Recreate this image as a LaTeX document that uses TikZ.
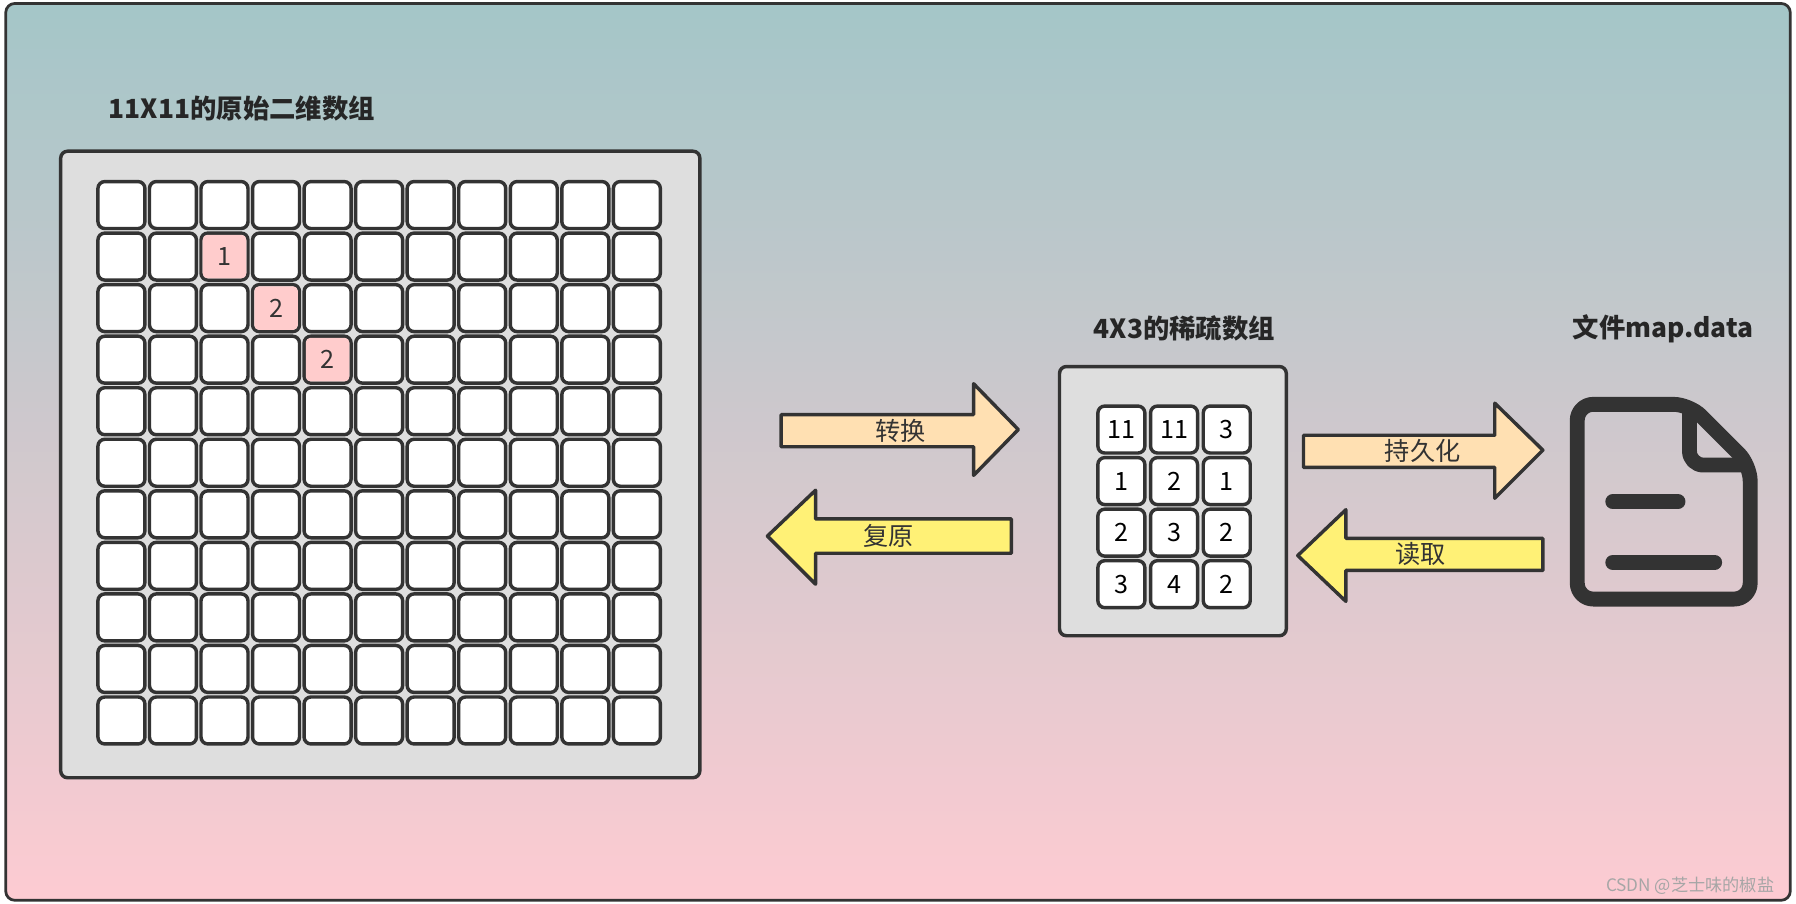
\documentclass[tikz,border=0pt]{standalone}
\usepackage{fontspec}
\setmainfont{Noto Sans CJK SC}
\newfontfamily\cjk{Noto Sans CJK SC}
\begin{document}
\begin{tikzpicture}[x=0.5pt,y=-0.5pt,
  cell/.style={draw=black!80,line width=1.5pt,fill=white,rounded corners=3pt,minimum size=20.5pt,inner sep=0pt,font=\fontsize{11}{11}\selectfont},
  pinkcell/.style={fill=red!20,rounded corners=2pt,minimum size=19pt,inner sep=0pt,font=\fontsize{11}{11}\selectfont,text=black!80},
  panel/.style={draw=black!80,line width=1.5pt,fill=black!13,rounded corners=3pt},
  title/.style={font=\fontsize{11.5}{12}\selectfont\bfseries,text=black!85},
  arrowlbl/.style={font=\fontsize{11}{11}\selectfont,text=black!80},
  arr/.style={draw=black!80,line width=1.5pt,line join=round}]
\useasboundingbox (0,0) rectangle (1568,789);
\fill[white] (0,0) rectangle (1568,789);
\shade[top color={rgb,255:red,164;green,198;blue,200},bottom color={rgb,255:red,253;green,203;blue,210},rounded corners=4pt,draw=black!80,line width=1.2pt] (5,3) rectangle (1563,786);
% titles
\node[title,anchor=west] (t1) at (88,95) {11X11的原始二维数组};
\node[title] (t2) at (1034,287) {4X3的稀疏数组};
\node[title] (t3) at (1452,287) {文件map.data};
% big panel
\draw[panel] (53,132) rectangle (611,679);
\foreach \r in {0,...,10}{\foreach \c in {0,...,10}{
  \node[cell] (g\r-\c) at ({106+45*\c},{179+45*\r}) {};}}
\node[pinkcell] (p1) at (g1-2) {1};
\node[pinkcell] (p2) at (g2-3) {2};
\node[pinkcell] (p3) at (g3-4) {2};
% sparse panel
\draw[panel] (925,320) rectangle (1123,555);
\foreach \r/\a/\b/\cc in {0/11/11/3,1/1/2/1,2/2/3/2,3/3/4/2}{
  \node[cell] (s\r-0) at (979,{375+45*\r}) {\a};
  \node[cell] (s\r-1) at (1025,{375+45*\r}) {\b};
  \node[cell] (s\r-2) at (1071,{375+45*\r}) {\cc};}
% arrows
\draw[arr,fill={rgb,255:red,255;green,224;blue,178}] (682,362)--(850,362)--(850,335)--(889,375)--(850,415)--(850,390)--(682,390)--cycle;
\node[arrowlbl] (l1) at (786,376) {转换};
\draw[arr,fill={rgb,255:red,255;green,241;blue,118}] (670,468)--(712,428)--(712,453)--(883,453)--(883,483)--(712,483)--(712,510)--cycle;
\node[arrowlbl] (l2) at (776,468) {复原};
\draw[arr,fill={rgb,255:red,255;green,224;blue,178}] (1138,380)--(1305,380)--(1305,352)--(1347,393)--(1305,435)--(1305,408)--(1138,408)--cycle;
\node[arrowlbl] (l3) at (1242,394) {持久化};
\draw[arr,fill={rgb,255:red,255;green,241;blue,118}] (1133,485)--(1175,445)--(1175,470)--(1347,470)--(1347,498)--(1175,498)--(1175,525)--cycle;
\node[arrowlbl] (l4) at (1240,484) {读取};
% file icon
\draw[black!80,line width=6.5pt,line join=round,rounded corners=7pt] (1377,353)--(1475,353)--(1528,406)--(1528,523)--(1377,523)--cycle;
\draw[black!80,line width=6.5pt,line join=round,rounded corners=6pt] (1475,353)--(1475,406)--(1528,406);
\draw[black!80,line width=6.5pt,line cap=round] (1408,438)--(1465,438);
\draw[black!80,line width=6.5pt,line cap=round] (1408,491)--(1497,491);
\node[font=\fontsize{7.5}{8}\selectfont,text=black!35,anchor=east] (wm) at (1556,773) {CSDN @芝士味的椒盐};
\end{tikzpicture}
\end{document}
